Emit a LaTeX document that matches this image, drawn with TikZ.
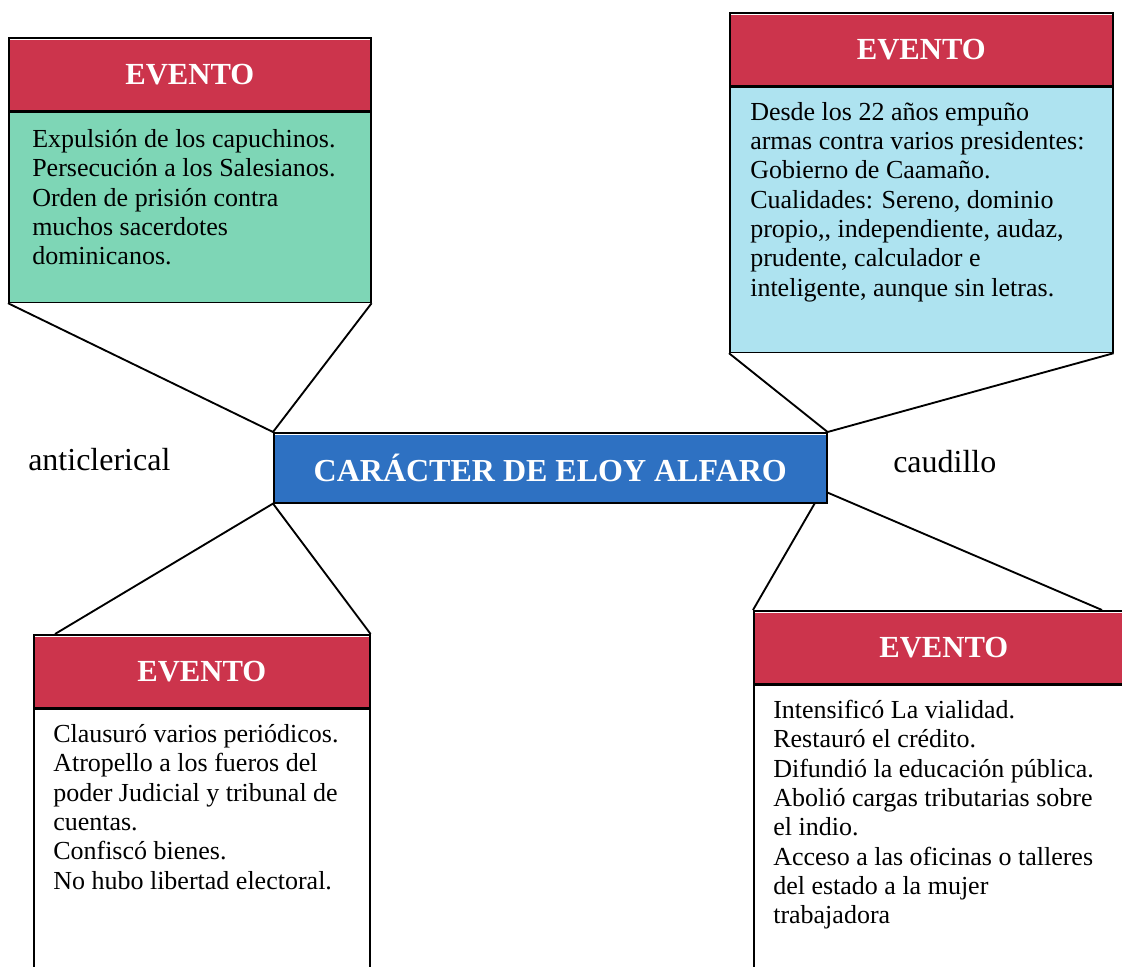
\documentclass[tikz,border=0pt]{standalone}
\usepackage{fontspec}
\setmainfont{Liberation Serif}
\usetikzlibrary{calc}
\definecolor{evred}{RGB}{204,52,76}
\definecolor{evgreen}{RGB}{126,214,182}
\definecolor{evblue}{RGB}{174,227,240}
\definecolor{titleblue}{RGB}{46,113,194}
\tikzstyle{topband}=[path picture={\fill[white] (path picture bounding box.north west) rectangle ([yshift=-2pt]path picture bounding box.north east);}]
\tikzstyle{evhead}=[draw=black, line width=1.2pt, fill=evred, text=white, topband, font=\fontsize{23}{27}\selectfont\bfseries, minimum height=54.75pt, inner sep=0, anchor=north west]
\tikzstyle{evbody}=[draw=black, line width=1.2pt, inner sep=0, anchor=north west]
\tikzstyle{evtext}=[inner sep=0, anchor=north west, align=left, font=\fontsize{19.5}{22}\selectfont]
\tikzstyle{titlebox}=[draw=black, line width=1.2pt, fill=titleblue, text=white, topband, font=\fontsize{24}{28}\selectfont\bfseries, inner sep=0, anchor=north west]
\tikzstyle{side}=[font=\fontsize{24}{28}\selectfont, anchor=base west, inner sep=0]
\tikzstyle{link}=[line width=1.4pt]

\begin{document}
\begin{tikzpicture}[x=0.75pt, y=-0.75pt]
\clip (0,0) rectangle (1122,967);
\node at (273,432)[titlebox, minimum width=414.75pt, minimum height=52.5pt](c){CARÁCTER DE ELOY ALFARO};
\node at (8,37)[evhead, minimum width=271.5pt](h1){EVENTO};
\node at (h1.south west)[evbody, fill=evgreen, minimum width=271.5pt, minimum height=142.5pt](b1){};
\node at (32,129)[evtext](t1){Expulsión de los capuchinos.\\Persecución a los Salesianos.\\Orden de prisión contra\\muchos sacerdotes\\dominicanos.};
\node at (729,12)[evhead, minimum width=287.25pt](h2){EVENTO};
\node at (h2.south west)[evbody, fill=evblue, minimum width=287.25pt, minimum height=198.75pt](b2){};
\node at (750,102)[evtext](t2){Desde los 22 años empuño\\armas contra varios presidentes:\\Gobierno de Caamaño.\\Cualidades: Sereno, dominio\\propio,{}, independiente, audaz,\\prudente, calculador e\\inteligente, aunque sin letras.};
\node at (33,634)[evhead, minimum width=252pt](h3){EVENTO};
\node at (h3.south west)[evbody, fill=white, minimum width=252pt, minimum height=210pt](b3){};
\node at (53,724)[evtext](t3){Clausuró varios periódicos.\\Atropello a los fueros del\\poder Judicial y tribunal de\\cuentas.\\Confiscó bienes.\\No hubo libertad electoral.};
\node at (753,610)[evhead, minimum width=285pt](h4){EVENTO};
\node at (h4.south west)[evbody, fill=white, minimum width=285pt, minimum height=225pt](b4){};
\node at (773,700)[evtext](t4){Intensificó La vialidad.\\Restauró el crédito.\\Difundió la educación pública.\\Abolió cargas tributarias sobre\\el indio.\\Acceso a las oficinas o talleres\\del estado a la mujer\\trabajadora};
\node at (28,470)[side](l1){anticlerical};
\node at (893,472)[side](l2){caudillo};
\coordinate (p1) at (55,634);
\coordinate (p4) at (1102,610);
\draw[link] (b1.south west)--(c.north west)--(b1.south east);
\draw[link] (b2.south west)--(c.north east)--(b2.south east);
\draw[link] (p1)--(c.south west)--(h3.north east);
\draw[link] ([xshift=-9.75pt]c.south east)--(h4.north west);
\draw[link] ([yshift=8.25pt]c.south east)--(p4);
\end{tikzpicture}
\end{document}
